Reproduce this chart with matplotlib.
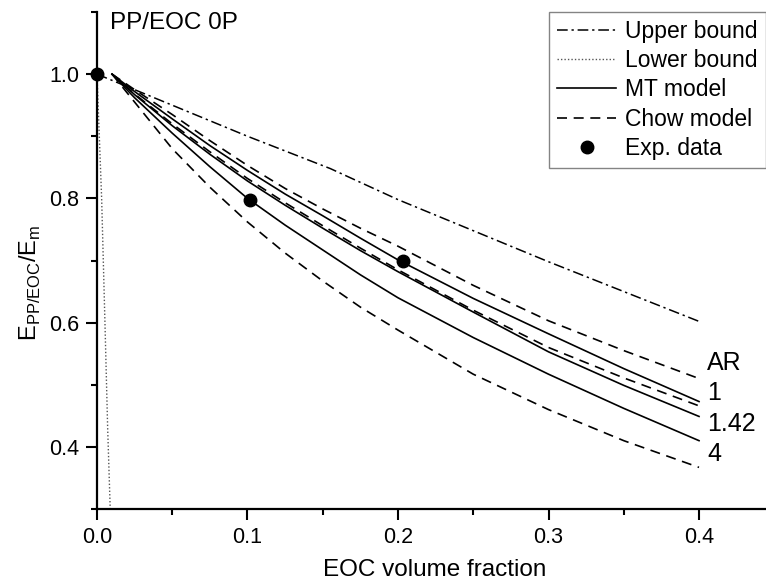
import matplotlib
matplotlib.use("Agg")
import matplotlib.pyplot as plt
from matplotlib.ticker import MultipleLocator

plt.rcParams['font.family'] = ['Liberation Sans', 'DejaVu Sans']

# bounds
upper_x = [0.0, 0.1, 0.155, 0.2, 0.3, 0.4]
upper_y = [1.0, 0.90, 0.848, 0.798, 0.698, 0.602]
lower_x = [0.0, 0.0031, 0.0053, 0.0071, 0.0088]
lower_y = [1.0, 0.80, 0.60, 0.43, 0.30]

# model curves, read at these fractions
model_x = [0.01, 0.025, 0.05, 0.075, 0.1, 0.125, 0.15, 0.175, 0.2, 0.25, 0.3, 0.35, 0.4]
chow_ar1 = [1.0, 0.975, 0.935, 0.893, 0.853, 0.816, 0.783, 0.752, 0.723, 0.660, 0.603, 0.555, 0.510]
mt_ar1 = [1.0, 0.972, 0.928, 0.885, 0.845, 0.807, 0.772, 0.736, 0.701, 0.639, 0.582, 0.526, 0.473]
chow_ar142 = [1.0, 0.968, 0.920, 0.875, 0.832, 0.793, 0.756, 0.720, 0.685, 0.620, 0.560, 0.511, 0.466]
mt_ar142 = [1.0, 0.967, 0.917, 0.871, 0.828, 0.789, 0.752, 0.716, 0.682, 0.617, 0.553, 0.499, 0.449]
mt_ar4 = [1.0, 0.962, 0.905, 0.851, 0.800, 0.757, 0.717, 0.677, 0.640, 0.576, 0.517, 0.462, 0.410]
chow_ar4 = [1.0, 0.955, 0.880, 0.818, 0.762, 0.712, 0.667, 0.625, 0.588, 0.517, 0.460, 0.410, 0.367]

# experiment
exp_x = [0.0, 0.102, 0.203]
exp_y = [1.0, 0.797, 0.700]

ar_labels = ["AR", "1", "1.42", "4"]
ar_label_y = [0.535, 0.487, 0.437, 0.388]

fig = plt.figure(figsize=(7.66, 5.86), dpi=100)
ax = fig.add_axes([0.1266, 0.1314, 0.8734, 0.8481])

dashdot = (0, (7, 2.5, 1.5, 2.5))
dashed = (0, (6, 4))

ax.plot(upper_x, upper_y, color="black", lw=1.1, linestyle=dashdot, label="Upper bound")
ax.plot(lower_x, lower_y, color="#555555", lw=1.0, linestyle=(0, (1, 1.5)), label="Lower bound")
ax.plot(model_x, mt_ar1, color="black", lw=1.2, label="MT model")
ax.plot(model_x, chow_ar1, color="black", lw=1.2, linestyle=dashed, label="Chow model")
ax.plot(model_x, mt_ar142, color="black", lw=1.2)
ax.plot(model_x, chow_ar142, color="black", lw=1.2, linestyle=dashed)
ax.plot(model_x, mt_ar4, color="black", lw=1.2)
ax.plot(model_x, chow_ar4, color="black", lw=1.2, linestyle=dashed)
ax.plot(exp_x, exp_y, "o", color="black", markersize=9, clip_on=False, label="Exp. data")

for lab, yy in zip(ar_labels, ar_label_y):
    ax.text(0.4053, yy, lab, fontsize=18, va="center", ha="left")

ax.text(0.0086, 1.1, "PP/EOC 0P", fontsize=17.5, va="top", ha="left")

ax.set_xlim(0, 0.4445)
ax.set_ylim(0.3, 1.1)
ax.xaxis.set_major_locator(MultipleLocator(0.1))
ax.xaxis.set_minor_locator(MultipleLocator(0.05))
ax.yaxis.set_major_locator(MultipleLocator(0.2))
ax.yaxis.set_minor_locator(MultipleLocator(0.1))
ax.xaxis.set_major_formatter(plt.FormatStrFormatter("%.1f"))
ax.yaxis.set_major_formatter(plt.FormatStrFormatter("%.1f"))
ax.tick_params(which="major", direction="out", length=8, width=1.5, labelsize=15.5, pad=5)
ax.tick_params(which="minor", direction="out", length=4.3, width=1.5)

for s in ["top", "right"]:
    ax.spines[s].set_visible(False)
for s in ["left", "bottom"]:
    ax.spines[s].set_linewidth(1.6)

ax.set_xlabel("EOC volume fraction", fontsize=17.5)
ax.xaxis.set_label_coords(0.505, -0.1)
ax.set_ylabel(r"E$_{\mathregular{PP/EOC}}$/E$_{\mathregular{m}}$", fontsize=17)
ax.yaxis.set_label_coords(-0.08, 0.455)

leg = ax.legend(loc="upper right", bbox_to_anchor=(1.0, 1.0), fontsize=16.5, frameon=True,
                fancybox=False, edgecolor="#666666", handlelength=2.6, handletextpad=0.4,
                borderpad=0.35, labelspacing=0.27, borderaxespad=0.0)
leg.get_frame().set_linewidth(1.0)

fig.savefig("out.png", dpi=100)
